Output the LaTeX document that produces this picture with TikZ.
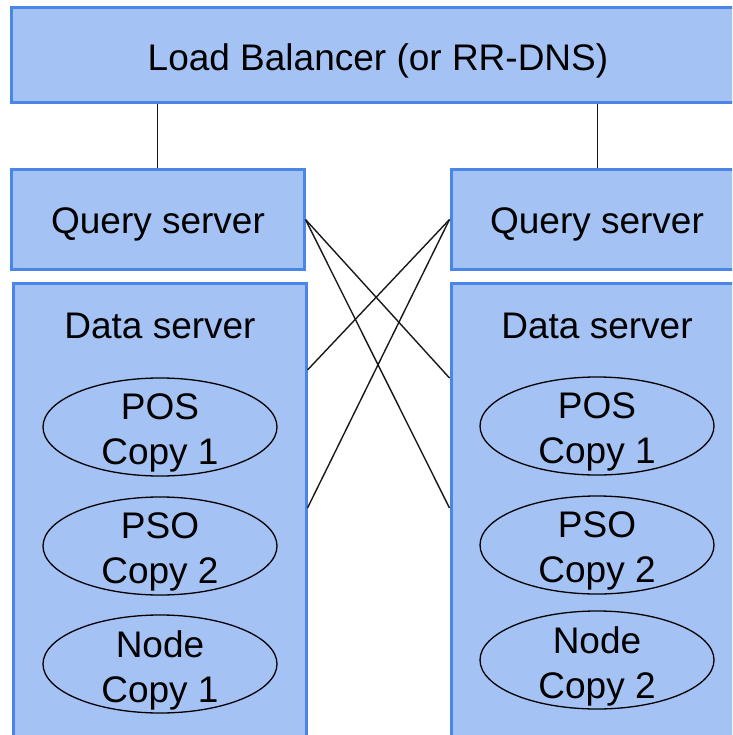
\documentclass[tikz,border=0pt]{standalone}
\usepackage{fontspec}
\setmainfont{Liberation Sans}
\usetikzlibrary{shapes.geometric}
\definecolor{boxfill}{HTML}{A4C2F4}
\definecolor{boxline}{HTML}{4A86E8}
\begin{document}
\begin{tikzpicture}[x=1pt,y=-1pt,
  box/.style={draw=boxline,fill=boxfill,line width=3pt,rectangle,inner sep=0pt},
  copyell/.style={draw=black,line width=1.3pt,ellipse,inner sep=0pt,
    minimum width=234pt,minimum height=98pt},
  lbl/.style={font=\fontsize{37}{45}\selectfont,inner sep=0pt,align=center},
  link/.style={draw=black!90,line width=1.4pt}]
\useasboundingbox (0,0) rectangle (732,735);
\clip (0,0) rectangle (732,735);
% boxes
\node[box,minimum width=734pt,minimum height=95pt] (LB) at (378,55.5) {};
\node[box,minimum width=293pt,minimum height=99pt] (QL) at (157.5,219.5) {};
\node[box,minimum width=293pt,minimum height=99pt] (QR) at (597.5,219.5) {};
\node[box,minimum width=293pt,minimum height=497pt] (DL) at (159.5,531.5) {};
\node[box,minimum width=293pt,minimum height=497pt] (DR) at (597.5,531.5) {};
\node[lbl] (LBt) at (378,61) {Load Balancer (or RR-DNS)};
\node[lbl] (QLt) at (158,224) {Query server};
\node[lbl] (QRt) at (597,224) {Query server};
\node[lbl] (DLt) at (160,326) {Data server};
\node[lbl] (DRt) at (597,326) {Data server};
% ellipses
\node[copyell] (L1) at (160,427) {};
\node[copyell] (L2) at (160,546) {};
\node[copyell] (L3) at (160,664) {};
\node[copyell] (R1) at (597,426) {};
\node[copyell] (R2) at (597,545) {};
\node[copyell] (R3) at (597,660) {};
\node[lbl] (L1t) at ([yshift=-6pt]L1.center) {POS\\Copy 1};
\node[lbl] (L2t) at ([yshift=-6pt]L2.center) {PSO\\Copy 2};
\node[lbl] (L3t) at ([yshift=-6pt]L3.center) {Node\\Copy 1};
\node[lbl] (R1t) at ([yshift=-6pt]R1.center) {POS\\Copy 1};
\node[lbl] (R2t) at ([yshift=-6pt]R2.center) {PSO\\Copy 2};
\node[lbl] (R3t) at ([yshift=-6pt]R3.center) {Node\\Copy 2};
% connectors
\draw[link] (LB.south -| QL.north) -- (QL.north);
\draw[link] (LB.south -| QR.north) -- (QR.north);
\coordinate (dr1) at (DR.west |- 0,378);
\coordinate (dr2) at (DR.west |- 0,508);
\coordinate (dl1) at (DL.east |- 0,370);
\coordinate (dl2) at (DL.east |- 0,508);
\draw[link] (QL.east) -- (dr1);
\draw[link] (QL.east) -- (dr2);
\draw[link] (QR.west) -- (dl1);
\draw[link] (QR.west) -- (dl2);
\end{tikzpicture}
\end{document}
